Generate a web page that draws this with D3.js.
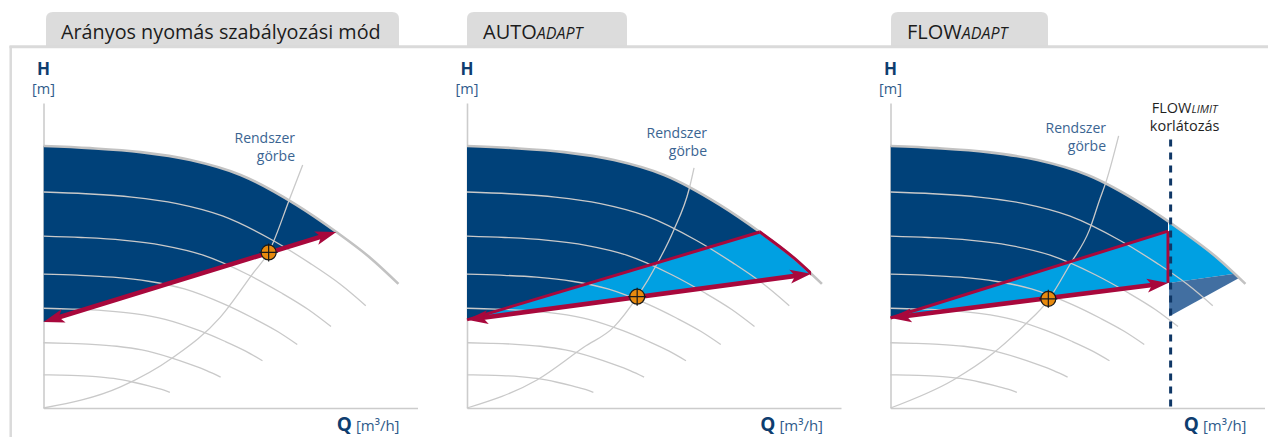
<!DOCTYPE html>
<html>
<head>
<meta charset="utf-8">
<script src="https://cdn.jsdelivr.net/npm/d3@7"></script>
<style>
  body { margin: 0; background: #fff; }
  svg text { font-family: "Open Sans", sans-serif; }
</style>
</head>
<body>
<svg id="chart" width="1268" height="437"></svg>
<script>
const svg = d3.select("#chart");

// panel titles
const tabMain = ["Arányos nyomás szabályozási mód", "AUTO", "FLOW"];
const tabItalic = ["", "ADAPT", "ADAPT"];

// max speed pump curve (Q, H in chart units 0-10)
const pumpQ = [0, 1.25, 2.6, 3.93, 5.27, 6.76, 7.83, 8.74, 9.49];
const pumpH = [8.59, 8.52, 8.39, 8.13, 7.64, 6.66, 5.77, 4.92, 4.07];
// relative speeds of the reduced speed curves
const speeds = [0.908, 0.81, 0.715, 0.617, 0.499, 0.356];

// system curve, one per panel
const sysQ = [
  [0, 2.06, 3.48, 4.73, 5.61, 6.02, 6.60, 6.93],
  [0, 1.87, 3.13, 3.93, 4.55, 5.08, 5.53, 5.94, 6.07],
  [0, 1.68, 2.75, 3.56, 4.22, 4.79, 5.32, 5.59, 5.78, 6.10]
];
const sysH = [
  [0, 0.69, 1.67, 2.98, 4.43, 5.11, 6.92, 7.97],
  [0, 0.92, 2.00, 2.66, 3.64, 4.72, 5.84, 7.18, 7.87],
  [0, 0.92, 1.80, 2.69, 3.54, 4.69, 5.84, 6.82, 7.48, 8.92]
];

// control curve (red arrow): head at Q=0 and end point
const ctrlStartH = [2.82, 2.89, 2.95];
const ctrlEndQ = [7.83, 9.20, 7.42];
const ctrlEndH = [5.77, 4.40, 4.10];
// upper edge of the adaptive band
const bandTopQ = [7.83, 7.83, 7.42];
const bandTopH = [5.77, 5.77, 5.80];
// duty points
const dutyQ = [6.02, 4.55, 4.22];
const dutyH = [5.10, 3.65, 3.58];
// FLOWLIMIT
const flowLimitQ = 7.49;
const flowLimitTopH = 8.8;
const cutQ = [7.45, 9.20, 9.32, 7.45];
const cutH = [4.10, 4.40, 4.26, 3.00];

// layout
const originX = [43.5, 467, 890.5];
const tabX = [46, 467, 891];
const tabW = [353, 160, 157];
const rendX = [295, 707, 1106];
const rendY = [143, 138, 133];

const C = {
  dark: "#004179", light: "#00a0e2", mid: "#426fa1", red: "#a8083c",
  curve: "#c9c9c9", outer: "#c2c2c2", axis: "#cccccc", label: "#0e3d6f", unit: "#2f5b8b"
};

// frame and tabs
tabX.forEach((tx, i) => {
  const w = tabW[i], r = 7, y0 = 12, y1 = 46;
  svg.append("path")
    .attr("d", `M${tx},${y1}V${y0 + r}Q${tx},${y0} ${tx + r},${y0}H${tx + w - r}Q${tx + w},${y0} ${tx + w},${y0 + r}V${y1}Z`)
    .attr("fill", "#dcdcdc");
  const t = svg.append("text")
    .attr("x", tx + (i === 0 ? 15 : 16)).attr("y", 38.5)
    .attr("fill", "#1c1c1c").attr("font-size", i === 0 ? 19.8 : 20);
  t.append("tspan").text(tabMain[i]);
  if (tabItalic[i]) t.append("tspan").attr("font-style", "italic").attr("font-size", 16).text(tabItalic[i]);
});
svg.append("line").attr("x1", 9.5).attr("x2", 1268).attr("y1", 46.7).attr("y2", 46.7)
  .attr("stroke", "#dadada").attr("stroke-width", 3);
svg.append("line").attr("x1", 10.7).attr("x2", 10.7).attr("y1", 46).attr("y2", 437)
  .attr("stroke", "#dadada").attr("stroke-width", 2.5);

const pump = pumpQ.map((q, i) => [q, pumpH[i]]);

originX.forEach((ox, p) => {
  const x = d3.scaleLinear().domain([0, 10]).range([ox, ox + 374]);
  const y = d3.scaleLinear().domain([0, 10]).range([408, 103]);
  const g = svg.append("g");
  const line = d3.line().x(d => x(d[0])).y(d => y(d[1]));
  const smooth = d3.line().x(d => x(d[0])).y(d => y(d[1])).curve(d3.curveMonotoneX);
  const area = d3.area().x(d => x(d[0])).y0(y(0)).y1(d => y(d[1])).curve(d3.curveMonotoneX);

  const clip = (id, pts) => {
    svg.append("clipPath").attr("id", id).append("path").attr("d", line(pts) + "Z");
    return `url(#${id})`;
  };

  // axes
  g.append("g").attr("transform", `translate(${ox},0)`)
    .call(d3.axisLeft(y).tickValues([]).tickSizeOuter(0));
  g.append("g").attr("transform", "translate(0,408)")
    .call(d3.axisBottom(x).tickValues([]).tickSizeOuter(0));
  g.selectAll(".domain").attr("stroke", C.axis).attr("stroke-width", 1.6);

  // dark blue: full range area above the band
  g.append("path").attr("d", area(pump)).attr("fill", C.dark)
    .attr("clip-path", clip(`dk${p}`, [[0, ctrlStartH[p]], [bandTopQ[p], bandTopH[p]], [bandTopQ[p], 11], [0, 11]]));

  if (p === 1) {
    g.append("path").attr("d", area(pump)).attr("fill", C.light)
      .attr("clip-path", clip("lb1", [[0, ctrlStartH[p]], [bandTopQ[p], bandTopH[p]], [11, bandTopH[p]], [11, 4.70], [ctrlEndQ[p], ctrlEndH[p]]]));
  }
  if (p === 2) {
    g.append("path").attr("d", line([[0, ctrlStartH[p]], [bandTopQ[p], bandTopH[p]], [ctrlEndQ[p], ctrlEndH[p]]]) + "Z")
      .attr("fill", C.light);
    g.append("path").attr("d", area(pump)).attr("fill", C.light)
      .attr("clip-path", clip("lb2", [[cutQ[0], cutH[0]], [cutQ[1], cutH[1]], [11, 4.70], [11, 11], [cutQ[0], 11]]));
    g.append("path").attr("d", line(cutQ.map((q, i) => [q, cutH[i]])) + "Z").attr("fill", C.mid);
  }

  // reduced speed curves
  speeds.forEach(n => {
    g.append("path").attr("d", smooth(pump.map(d => [d[0] * n, d[1] * n * n])))
      .attr("fill", "none").attr("stroke", C.curve).attr("stroke-width", 1.3);
  });
  // max curve
  g.append("path").attr("d", smooth(pump)).attr("fill", "none")
    .attr("stroke", C.outer).attr("stroke-width", 2.6);

  // system curve
  g.append("path").attr("d", smooth(sysQ[p].map((q, i) => [q, sysH[p][i]])))
    .attr("fill", "none").attr("stroke", C.curve).attr("stroke-width", 1.3);

  // band outline
  if (p > 0) {
    g.append("path").attr("d", line([[0, ctrlStartH[p]], [bandTopQ[p], bandTopH[p]]]))
      .attr("stroke", C.red).attr("stroke-width", 3).attr("fill", "none");
  }
  if (p === 1) {
    svg.append("clipPath").attr("id", "rc1").append("rect")
      .attr("x", x(bandTopQ[p])).attr("y", 0).attr("width", x(ctrlEndQ[p]) - x(bandTopQ[p])).attr("height", 437);
    g.append("path").attr("d", smooth(pump)).attr("fill", "none")
      .attr("stroke", C.red).attr("stroke-width", 3).attr("clip-path", "url(#rc1)");
  }
  if (p === 2) {
    g.append("path").attr("d", line([[bandTopQ[p], bandTopH[p]], [ctrlEndQ[p], ctrlEndH[p]]]))
      .attr("stroke", C.red).attr("stroke-width", 3).attr("fill", "none");
    g.append("line").attr("x1", x(flowLimitQ)).attr("x2", x(flowLimitQ))
      .attr("y1", y(flowLimitTopH)).attr("y2", y(0))
      .attr("stroke", "#0f3766").attr("stroke-width", 3).attr("stroke-dasharray", "7,6");
  }

  // control arrow (double headed)
  const a = [x(0), y(ctrlStartH[p])], b = [x(ctrlEndQ[p]), y(ctrlEndH[p])];
  const len = Math.hypot(b[0] - a[0], b[1] - a[1]);
  const ux = (b[0] - a[0]) / len, uy = (b[1] - a[1]) / len;
  g.append("line")
    .attr("x1", a[0] + ux * 12).attr("y1", a[1] + uy * 12)
    .attr("x2", b[0] - ux * 12).attr("y2", b[1] - uy * 12)
    .attr("stroke", C.red).attr("stroke-width", 4.6);
  const head = (tip, dx, dy) => {
    const L = 21, W = 7, N = 16;
    const bx = tip[0] - dx * L, by = tip[1] - dy * L;
    const nx = -dy, ny = dx;
    return `M${tip[0]},${tip[1]}L${bx + nx * W},${by + ny * W}L${tip[0] - dx * N},${tip[1] - dy * N}L${bx - nx * W},${by - ny * W}Z`;
  };
  g.append("path").attr("d", head(b, ux, uy)).attr("fill", C.red);
  g.append("path").attr("d", head(a, -ux, -uy)).attr("fill", C.red);

  // duty point
  const cx = x(dutyQ[p]), cy = y(dutyH[p]);
  g.append("circle").attr("cx", cx).attr("cy", cy).attr("r", 7.5)
    .attr("fill", "#e88a0e").attr("stroke", "#1b1b1b").attr("stroke-width", 1.2);
  g.append("path").attr("d", `M${cx - 9},${cy}H${cx + 9}M${cx},${cy - 9}V${cy + 9}`)
    .attr("stroke", "#1b1b1b").attr("stroke-width", 1.2);

  // axis labels
  g.append("text").attr("x", ox).attr("y", 75).attr("text-anchor", "middle")
    .attr("font-weight", "bold").attr("font-size", 17).attr("fill", C.label).text("H");
  g.append("text").attr("x", ox).attr("y", 94).attr("text-anchor", "middle")
    .attr("font-size", 14.5).attr("fill", C.unit).text("[m]");
  const q = g.append("text").attr("x", ox + 356).attr("y", 431).attr("text-anchor", "end");
  q.append("tspan").attr("font-weight", "bold").attr("font-size", 19).attr("fill", C.label).text("Q");
  q.append("tspan").attr("font-size", 15).attr("fill", C.unit).text(" [m³/h]");

  // system curve label
  ["Rendszer", "görbe"].forEach((s, i) => {
    g.append("text").attr("x", rendX[p]).attr("y", rendY[p] + i * 18).attr("text-anchor", "end")
      .attr("font-size", 14).attr("fill", "#3a6492").text(s);
  });

  if (p === 2) {
    const t = g.append("text").attr("x", x(flowLimitQ) + 14).attr("y", 113).attr("text-anchor", "middle")
      .attr("font-size", 14.5).attr("fill", "#1f1f1f");
    t.append("tspan").text("FLOW");
    t.append("tspan").attr("font-style", "italic").attr("font-size", 11).text("LIMIT");
    g.append("text").attr("x", x(flowLimitQ) + 14).attr("y", 131).attr("text-anchor", "middle")
      .attr("font-size", 14.5).attr("fill", "#1f1f1f").text("korlátozás");
  }
});
</script>
</body>
</html>
